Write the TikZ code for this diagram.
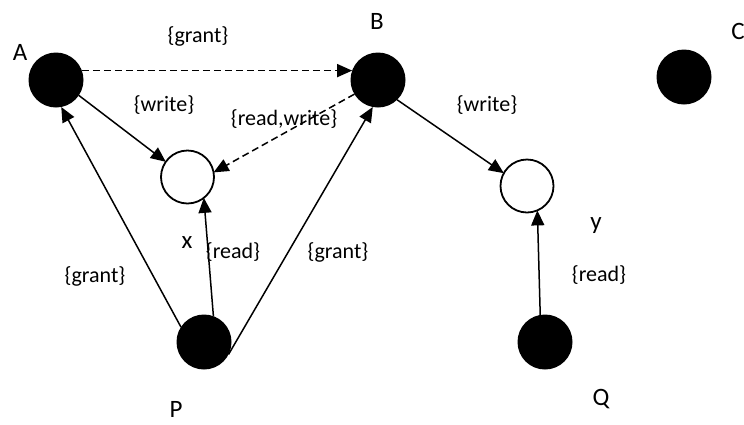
\documentclass[tikz,border=0pt]{standalone}
\usepackage{fontspec}
\setmainfont{Carlito}
\usetikzlibrary{arrows.meta}
\begin{document}
\begin{tikzpicture}[x=1pt,y=-1pt,
  subj/.style={circle,fill=black,minimum size=55pt,inner sep=0pt,outer sep=0pt},
  obj/.style={circle,draw=black,line width=1.8pt,minimum size=53pt,inner sep=0pt,outer sep=0pt},
  lbl/.style={inner sep=0pt,font=\fontsize{22}{26}\selectfont},
  nmlbl/.style={inner sep=0pt,font=\fontsize{25}{30}\selectfont},
  conn/.style={line width=1.5pt,-{Triangle[length=15pt,width=13pt]}},
  dconn/.style={conn,dash pattern=on 7pt off 4pt}]
\useasboundingbox (0,0) rectangle (744,424);
\node[subj] (A) at (56,80) {};
\node[subj] (B) at (378,80) {};
\node[subj] (C) at (684,77) {};
\node[obj] (X) at (187.5,177) {};
\node[obj] (Y) at (527,186) {};
\node[subj] (P) at (204,342) {};
\node[subj] (Q) at (545,342) {};
\node[nmlbl] (lA) at (20,52) {A};
\node[nmlbl] (lB) at (377,21) {B};
\node[nmlbl] (lC) at (738,31) {C};
\node[nmlbl] (lX) at (187,243) {x};
\node[nmlbl] (lY) at (596,226) {y};
\node[nmlbl] (lP) at (176,409) {P};
\node[nmlbl] (lQ) at (601,399) {Q};
\node[lbl] (g1) at (198,36) {\{grant\}};
\node[lbl] (w1) at (164,105) {\{write\}};
\node[lbl] (rw) at (284,119) {\{read,write\}};
\node[lbl] (w2) at (487,105) {\{write\}};
\node[lbl] (r1) at (233,252) {\{read\}};
\node[lbl] (g3) at (338,252) {\{grant\}};
\node[lbl] (g2) at (95,276) {\{grant\}};
\node[lbl] (r2) at (599,275) {\{read\}};
\draw[dconn] (A.20) -- (B.160);
\draw[conn] (A.-34) -- (X.145);
\draw[dconn] (B.211) -- (X.10);
\draw[conn] (P.147) -- (A.-79);
\draw[conn] (P.70) -- (X.-52);
\draw[conn] (P.-27) -- (B.-101);
\draw[conn] (B.-46) -- (Y.151);
\draw[conn] (Q.100) -- (Y.-67);
\end{tikzpicture}
\end{document}
